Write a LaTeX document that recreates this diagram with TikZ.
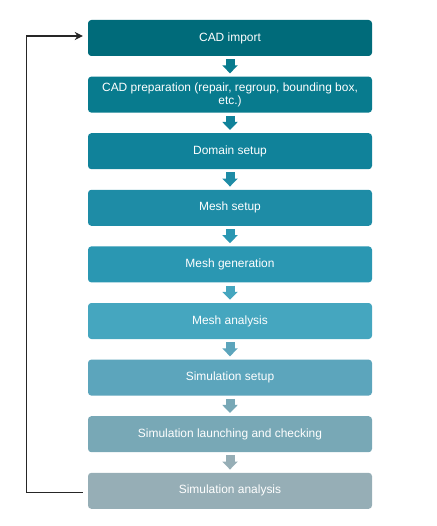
\documentclass[tikz,border=0pt]{standalone}
\usepackage{fontspec}
\setmainfont{Liberation Sans}
\usetikzlibrary{arrows.meta}

\definecolor{stepA}{HTML}{006B7A}
\definecolor{stepB}{HTML}{087B8E}
\definecolor{stepC}{HTML}{10829A}
\definecolor{stepD}{HTML}{1E8CA6}
\definecolor{stepE}{HTML}{2A97B2}
\definecolor{stepF}{HTML}{45A6BF}
\definecolor{stepG}{HTML}{5CA5BC}
\definecolor{stepH}{HTML}{78A8B6}
\definecolor{stepI}{HTML}{96AEB6}

\begin{document}
\begin{tikzpicture}[
  x=0.3mm, y=-0.3mm,
  stepbox/.style={rounded corners=1mm, align=center, minimum width=85.2mm, minimum height=10.8mm,
    text=white, font=\fontsize{10.2}{10.8}\selectfont, inner sep=1pt},
  blockarrow/.style={line width=2.7mm, shorten <=0.9mm, shorten >=0.9mm,
    -{Triangle[width=4.5mm, length=2.4mm]}},
  loopline/.style={-{Stealth[length=2.4mm, width=2.4mm]}, line width=0.32mm, black!85}
]
\useasboundingbox (0,0) rectangle (436,526);

\node[stepbox, fill=stepA] (s1) at (230,38) {CAD import};
\node[stepbox, fill=stepB] (s2) at (230,94.6) {CAD preparation (repair, regroup, bounding box,\\etc.)};
\node[stepbox, fill=stepC] (s3) at (230,151.2) {Domain setup};
\node[stepbox, fill=stepD] (s4) at (230,207.8) {Mesh setup};
\node[stepbox, fill=stepE] (s5) at (230,264.4) {Mesh generation};
\node[stepbox, fill=stepF] (s6) at (230,321) {Mesh analysis};
\node[stepbox, fill=stepG] (s7) at (230,377.6) {Simulation setup};
\node[stepbox, fill=stepH] (s8) at (230,434.2) {Simulation launching and checking};
\node[stepbox, fill=stepI] (s9) at (230,490.8) {Simulation analysis};

\draw[blockarrow, stepB] (s1) -- (s2);
\draw[blockarrow, stepC] (s2) -- (s3);
\draw[blockarrow, stepD] (s3) -- (s4);
\draw[blockarrow, stepE] (s4) -- (s5);
\draw[blockarrow, stepF] (s5) -- (s6);
\draw[blockarrow, stepG] (s6) -- (s7);
\draw[blockarrow, stepH] (s7) -- (s8);
\draw[blockarrow, stepI] (s8) -- (s9);

% feedback from the last step back to the start
\draw[loopline] ([xshift=-1.5mm, yshift=-0.6mm]s9.west) -- ++(-56,0) |- ([xshift=-1.5mm, yshift=0.6mm]s1.west);

\end{tikzpicture}
\end{document}
